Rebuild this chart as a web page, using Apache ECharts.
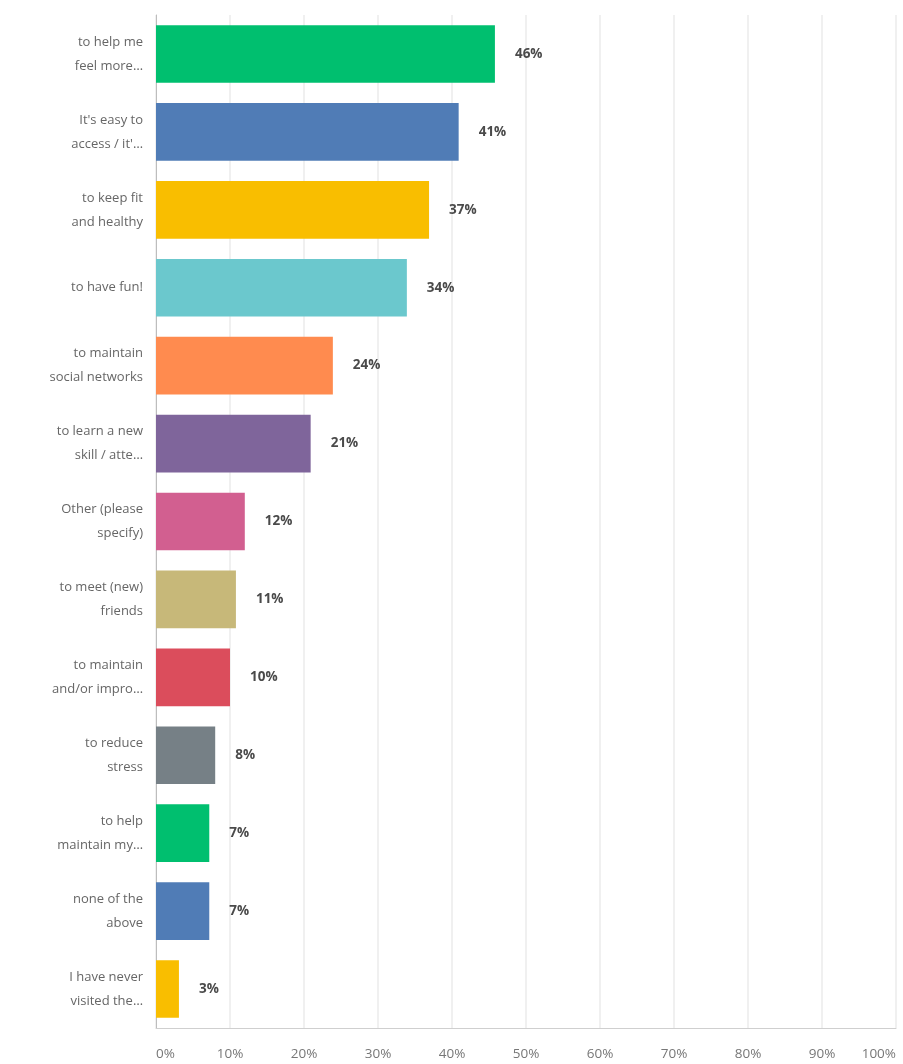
<!DOCTYPE html>
<html><head><meta charset="utf-8">
<script src="https://cdn.jsdelivr.net/npm/echarts@6/dist/echarts.min.js"></script>
<style>html,body{margin:0;padding:0;background:#fff}#c{width:903px;height:1064px}</style>
</head><body><div id="c"></div>
<script>
const categories = [
  "to help me\nfeel more…",
  "It's easy to\naccess / it'…",
  "to keep fit\nand healthy",
  "to have fun!",
  "to maintain\nsocial networks",
  "to learn a new\nskill / atte…",
  "Other (please\nspecify)",
  "to meet (new)\nfriends",
  "to maintain\nand/or impro…",
  "to reduce\nstress",
  "to help\nmaintain my…",
  "none of the\nabove",
  "I have never\nvisited the…"
];
const values = [45.8, 40.9, 36.9, 33.9, 23.9, 20.9, 12.0, 10.8, 10.0, 8.0, 7.2, 7.2, 3.1];
const colors = ["#00BF6F","#507CB6","#F9BE00","#6BC8CD","#FF8B4F","#7F659B","#D25F90","#C7B879","#DB4D5C","#768086","#00BF6F","#507CB6","#F9BE00"];
const xTicks = [0,10,20,30,40,50,60,70,80,90,100];

const chart = echarts.init(document.getElementById('c'), null, {renderer:'canvas'});
chart.setOption({
  animation:false,
  textStyle:{fontFamily:'Open Sans'},
  grid:{left:156, right:7, top:15, bottom:36, containLabel:false},
  xAxis:{
    type:'value', min:0, max:100, interval:10,
    axisLine:{show:true, lineStyle:{color:'#cfcfcf', width:1}},
    axisTick:{show:false},
    splitLine:{show:true, lineStyle:{color:'#f0f0f0', width:2}},
    axisLabel:{color:'#777', fontSize:13.5, margin:19, alignMinLabel:'left', alignMaxLabel:'right',
      formatter: v => xTicks.includes(v) ? v + '%' : ''}
  },
  yAxis:{
    type:'category', data:categories, inverse:true,
    axisLine:{show:true, lineStyle:{color:'#bdbdbd'}},
    axisTick:{show:false},
    axisLabel:{color:'#666', fontSize:13, lineHeight:24, margin:13, align:'right'}
  },
  series:[{
    type:'bar', data:values.map((v,i)=>({value:v, itemStyle:{color:colors[i]}})),
    barCategoryGap:'26%',
    label:{show:true, position:'right', distance:20, color:'#4a4a4a', fontWeight:'bold', fontSize:13.5,
      formatter: p => Math.round(p.value) + '%'}
  }]
});
</script></body></html>
